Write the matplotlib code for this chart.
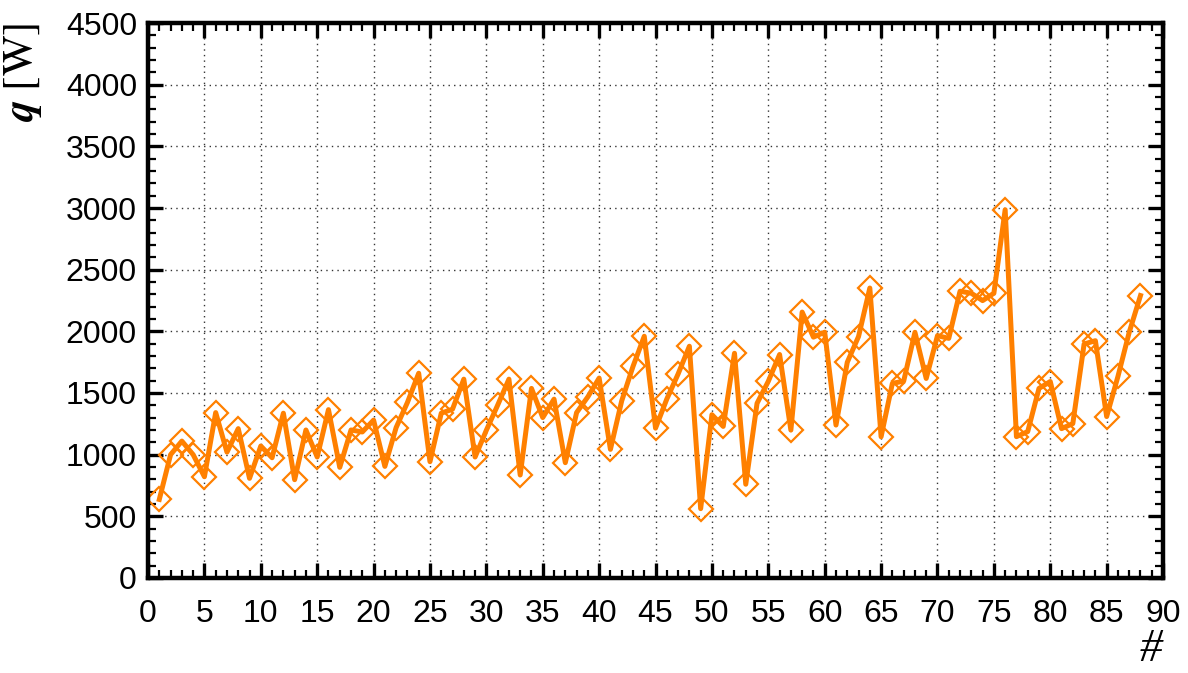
import matplotlib.pyplot as plt
import numpy as np
from matplotlib.ticker import MultipleLocator

# data
run_no = list(range(1, 89))
q_watt = [637, 1000, 1110, 1000, 821, 1341, 1020, 1211, 808, 1070,
          975, 1336, 797, 1200, 981, 1365, 897, 1200, 1184, 1280,
          905, 1220, 1423, 1660, 943, 1336, 1369, 1612, 981, 1198,
          1401, 1612, 835, 1537, 1301, 1450, 935, 1341, 1469, 1621,
          1043, 1436, 1715, 1960, 1215, 1451, 1654, 1879, 562, 1324,
          1229, 1822, 760, 1416, 1595, 1812, 1199, 2156, 1953, 1993,
          1240, 1749, 1958, 2351, 1145, 1578, 1596, 1992, 1618, 1965,
          1943, 2325, 2309, 2249, 2309, 2986, 1146, 1187, 1537, 1593,
          1211, 1252, 1897, 1924, 1309, 1634, 1992, 2290]

plt.rcParams['font.family'] = ['Liberation Sans', 'DejaVu Sans']
plt.rcParams['mathtext.fontset'] = 'stix'

fig = plt.figure(figsize=(11.88, 6.73), dpi=100)
ax = fig.add_axes([0.1246, 0.1412, 0.8544, 0.8246])

ax.plot(run_no, q_watt, color='#ff8000', linewidth=3.6, marker='D',
        markersize=12, markerfacecolor='none', markeredgecolor='#ff8000',
        markeredgewidth=1.6)

ax.set_xlim(0, 90)
ax.set_ylim(0, 4500)
ax.xaxis.set_major_locator(MultipleLocator(5))
ax.xaxis.set_minor_locator(MultipleLocator(1))
ax.yaxis.set_major_locator(MultipleLocator(500))
ax.yaxis.set_minor_locator(MultipleLocator(100))

ax.grid(True, which='major', linestyle=(0, (1, 3)), linewidth=1.0, color='#333333')

for s in ax.spines.values():
    s.set_linewidth(3.2)
ax.tick_params(which='both', direction='in', top=True, right=True, labelsize=23)
ax.tick_params(which='major', length=11, width=2.4, pad=8)
ax.tick_params(axis='x', which='major', pad=15)
ax.tick_params(which='minor', length=6, width=1.6)

ax.set_ylabel(r'$\mathbfit{q}\ [\mathrm{W}]$', fontsize=31, loc='top', labelpad=16)
ax.set_xlabel('#', fontsize=33, fontstyle='italic', family='Liberation Serif',
              loc='right', labelpad=0)

fig.savefig('out.png', dpi=100)
